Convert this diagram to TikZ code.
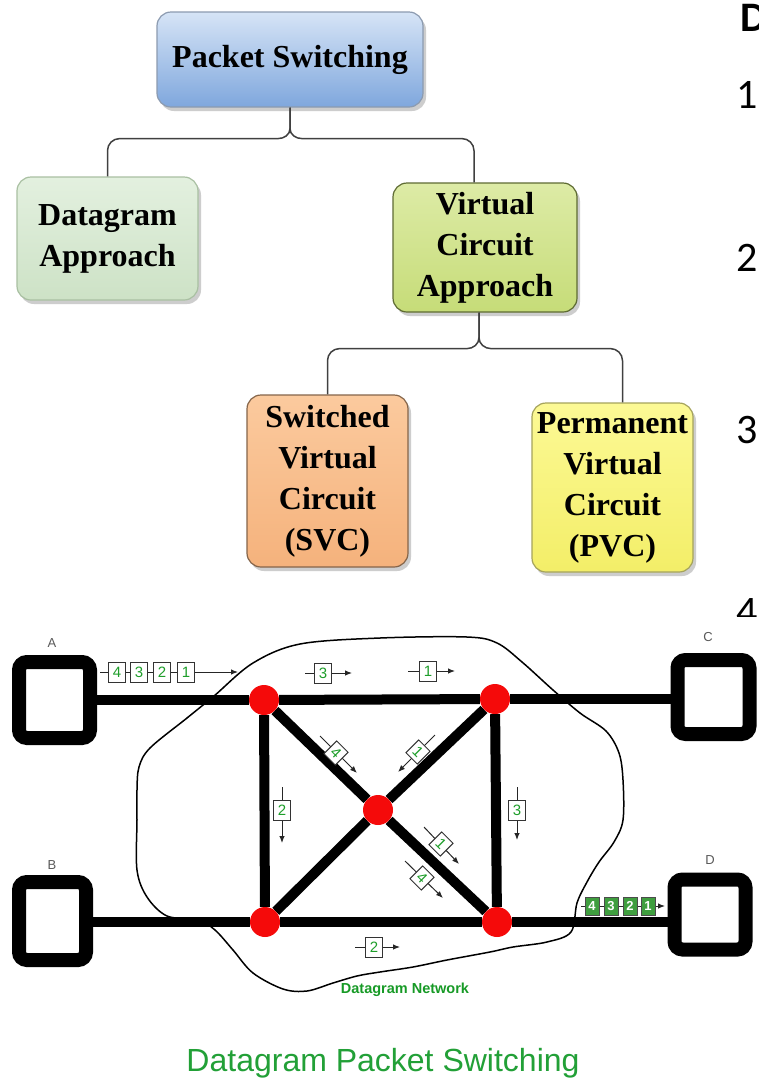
\documentclass[tikz,border=0pt]{standalone}
\usepackage{fontspec}
\setmainfont{Liberation Serif}
\newfontfamily\arialfont{Liberation Sans}
\newfontfamily\listfont{Carlito}
\usetikzlibrary{shadows,arrows.meta,backgrounds,calc}

\definecolor{psTop}{HTML}{D6E4F6}
\definecolor{psBot}{HTML}{7FA7DD}
\definecolor{psBd}{HTML}{8C9BB0}
\definecolor{dgTop}{HTML}{E3F0DF}
\definecolor{dgBot}{HTML}{CDE2C6}
\definecolor{dgBd}{HTML}{A9C0A2}
\definecolor{vcTop}{HTML}{DDEBA6}
\definecolor{vcBot}{HTML}{C6DC78}
\definecolor{vcBd}{HTML}{5E6B33}
\definecolor{svTop}{HTML}{FBCA9E}
\definecolor{svBot}{HTML}{F5B27C}
\definecolor{svBd}{HTML}{85654A}
\definecolor{pvTop}{HTML}{FCF995}
\definecolor{pvBot}{HTML}{F3EE68}
\definecolor{pvBd}{HTML}{A5A35C}
\definecolor{connGray}{HTML}{404040}
\definecolor{routerRed}{HTML}{F50A0A}
\definecolor{pktGreen}{HTML}{1E9E2A}
\definecolor{queueGreen}{HTML}{3F9E3F}
\definecolor{titleGreen}{HTML}{22A037}
\definecolor{netGreen}{HTML}{179A26}

\tikzset{
  tbox/.style={draw=#1, rounded corners=14pt, line width=1.2pt, align=center,
    font=\bfseries\fontsize{32}{41}\selectfont, inner sep=0pt,
    drop shadow={shadow xshift=3pt, shadow yshift=-4pt, opacity=0.28, fill=black!70}},
  conn/.style={draw=connGray, line width=1.5pt},
  host/.style={draw=black, line width=14pt, fill=white, rounded corners=8pt, inner sep=0pt},
  hostlabel/.style={text=black!65, font=\arialfont\fontsize{13}{13}\selectfont, inner sep=0pt},
  router/.style={circle, fill=routerRed, minimum size=30pt, inner sep=0pt},
  link/.style={draw=black, line width=10pt},
  cloud/.style={draw=black, line width=1.5pt},
  pkt/.style={draw=black!80, line width=1pt, fill=white, minimum width=17pt,
    minimum height=20pt, inner sep=0pt, text=pktGreen,
    font=\arialfont\fontsize{15}{15}\selectfont},
  qpkt/.style={pkt, fill=queueGreen, text=white, draw=black!70,
    minimum width=14pt, minimum height=18pt, font=\arialfont\bfseries\fontsize{13}{13}\selectfont},
  flow/.style={draw=black!85, line width=1pt, -{Latex[length=7pt,width=5.5pt]}},
  listnum/.style={font=\listfont\fontsize{42}{42}\selectfont, inner sep=0pt, anchor=base west}
}

\begin{document}
\begin{tikzpicture}[x=1pt,y=-1pt]
\useasboundingbox (0,0) rectangle (759,1080);
\clip (0,0) rectangle (759,1080);
\begin{scope}[on background layer]
  \fill[white] (0,0) rectangle (759,1080);
\end{scope}

% ---------- classification tree ----------
\node[tbox=psBd, top color=psTop, bottom color=psBot, minimum width=266pt, minimum height=95pt]
  (ps) at (290,59.5) {Packet Switching};
\node[tbox=dgBd, top color=dgTop, bottom color=dgBot, minimum width=181pt, minimum height=123pt]
  (dg) at (107.5,238.5) {Datagram\\Approach};
\node[tbox=vcBd, top color=vcTop, bottom color=vcBot, minimum width=184pt, minimum height=129pt]
  (vc) at (485,247.5) {Virtual\\Circuit\\Approach};
\node[tbox=svBd, top color=svTop, bottom color=svBot, minimum width=161pt, minimum height=172pt]
  (svc) at (327.5,481) {Switched\\Virtual\\Circuit\\(SVC)};
\node[tbox=pvBd, top color=pvTop, bottom color=pvBot, minimum width=161pt, minimum height=169pt]
  (pvc) at (612.5,487.5) {Permanent\\Virtual\\Circuit\\(PVC)};

\coordinate (vcIn) at ($(vc.north)+(-11,0)$);
\coordinate (vcOut) at ($(vc.south)+(-6,0)$);
\coordinate (pvcIn) at ($(pvc.north)+(10,0)$);

\draw[conn] (ps.south) -- ++(0,21) to[out=-90,in=0] ++(-12,10) [rounded corners=12pt] -| (dg.north);
\draw[conn] (ps.south) -- ++(0,21) to[out=-90,in=180] ++(12,10) [rounded corners=12pt] -| (vcIn);
\draw[conn] (vcOut) -- ++(0,25) to[out=-90,in=0] ++(-12,11) [rounded corners=12pt] -| (svc.north);
\draw[conn] (vcOut) -- ++(0,25) to[out=-90,in=180] ++(12,11) [rounded corners=12pt] -| (pvcIn);

% ---------- numbered list at the right margin ----------
\node[listnum] (itD) at (740,31) {\bfseries D};
\node[listnum] (it1) at (736,108) {1};
\node[listnum] (it2) at (736,271) {2};
\node[listnum] (it3) at (736,443) {3};
\begin{scope}
  \clip (700,585) rectangle (759,616);
  \node[listnum] (it4) at (736,625) {4};
\end{scope}

% ---------- datagram network ----------
\node[host] (A) at (54.5,700) [minimum width=71pt, minimum height=76pt] {};
\node[host] (B) at (52.5,921) [minimum width=67pt, minimum height=78pt] {};
\node[host] (C) at (713.5,697) [minimum width=72pt, minimum height=74pt] {};
\node[host] (D) at (710,914.5) [minimum width=71pt, minimum height=70pt] {};
\node[hostlabel] (lA) at (52,643) {A};
\node[hostlabel] (lB) at (52,865) {B};
\node[hostlabel] (lC) at (708,637) {C};
\node[hostlabel] (lD) at (710,860) {D};

% network cloud
\draw[cloud] plot[smooth cycle, tension=0.55] coordinates {
  (253,663) (300,644) (380,638) (467,637) (497,643) (522,662) (553,690) (580,713)
  (606,731) (619,753) (623,780) (623,820) (614,842) (599,862) (587,882) (577,903)
  (571,932) (547,942) (513,947) (490,952) (447,960) (413,967) (380,972) (357,976)
  (333,983) (307,991) (283,989) (253,973) (233,950) (215,930) (198,920) (167,916)
  (147,897) (137,870) (137,820) (137,790) (139,767) (150,748) (187,718) (214,696)};

\node[router] (n1) at (264,700) {};
\node[router] (n2) at (495,699) {};
\node[router] (n3) at (378,810) {};
\node[router] (n4) at (497,922) {};
\node[router] (n5) at (265,922) {};

\begin{scope}[on background layer]
  \draw[link] (n1) -- (n1 -| A.east);
  \draw[link] (n1) -- (n2);
  \draw[link] (n2) -- (n2 -| C.west);
  \draw[link] (n5) -- (n5 -| B.east);
  \draw[link] (n5) -- (n4);
  \draw[link] (n4) -- (n4 -| D.west);
  \draw[link] (n1) -- (n5);
  \draw[link] (n2) -- (n4);
  \draw[link] (n1) -- (n3);
  \draw[link] (n3) -- (n4);
  \draw[link] (n2) -- (n3);
  \draw[link] (n3) -- (n5);
\end{scope}

% packets in transit: flow lines first, packet boxes on top
\coordinate (qAs) at (100,672);   \coordinate (qAe) at (238,672);
\coordinate (t3s) at (305,673);   \coordinate (t3e) at (352,673);
\coordinate (t1s) at (408,671);   \coordinate (t1e) at (455,671);
\coordinate (v2s) at (282,787);   \coordinate (v2e) at (282,843);
\coordinate (v3s) at (517,787);   \coordinate (v3e) at (517,840);
\coordinate (b2s) at (355,947);   \coordinate (b2e) at (400,947);
\coordinate (d4s) at (320,736);   \coordinate (d4e) at (357,773);
\coordinate (d1s) at (435,735);   \coordinate (d1e) at (398,772);
\coordinate (e1s) at (424,827);   \coordinate (e1e) at (459,864);
\coordinate (e4s) at (405,861);   \coordinate (e4e) at (443,898);
\coordinate (qDs) at (581,906);   \coordinate (qDe) at (665,906);

\foreach \s/\e in {qAs/qAe, t3s/t3e, t1s/t1e, v2s/v2e, v3s/v3e, b2s/b2e,
                   d4s/d4e, d1s/d1e, e1s/e1e, e4s/e4e, qDs/qDe}
  \draw[flow] (\s) -- (\e);

\node[pkt] (qa4) at (117,672) {4};
\node[pkt] (qa3) at (139,672) {3};
\node[pkt] (qa2) at (162,672) {2};
\node[pkt] (qa1) at (186,672) {1};
\node[pkt] (pt3) at (323,673) {3};
\node[pkt] (pt1) at (428,671) {1};
\node[pkt] (pv2) at (282,810) {2};
\node[pkt] (pv3) at (517,810) {3};
\node[pkt] (pb2) at (374,947) {2};
\node[pkt, rotate=-45, minimum width=16pt, minimum height=18pt] (pd4) at (336,753) {4};
\node[pkt, rotate=-45, minimum width=16pt, minimum height=18pt] (pd1) at (418,752) {1};
\node[pkt, rotate=-45, minimum width=16pt, minimum height=18pt] (pe1) at (441,844) {1};
\node[pkt, rotate=-45, minimum width=16pt, minimum height=18pt] (pe4) at (422,878) {4};
\node[qpkt] (qd4) at (592,906) {4};
\node[qpkt] (qd3) at (611,906) {3};
\node[qpkt] (qd2) at (630,906) {2};
\node[qpkt] (qd1) at (648,906) {1};

\node[text=netGreen, font=\arialfont\bfseries\fontsize{14.5}{14.5}\selectfont, anchor=base, inner sep=0pt]
  (netname) at (405,993) {Datagram Network};
\node[text=titleGreen, font=\arialfont\fontsize{32}{38}\selectfont, anchor=base, inner sep=0pt]
  (title) at (383,1071) {Datagram Packet Switching};
\end{tikzpicture}
\end{document}
